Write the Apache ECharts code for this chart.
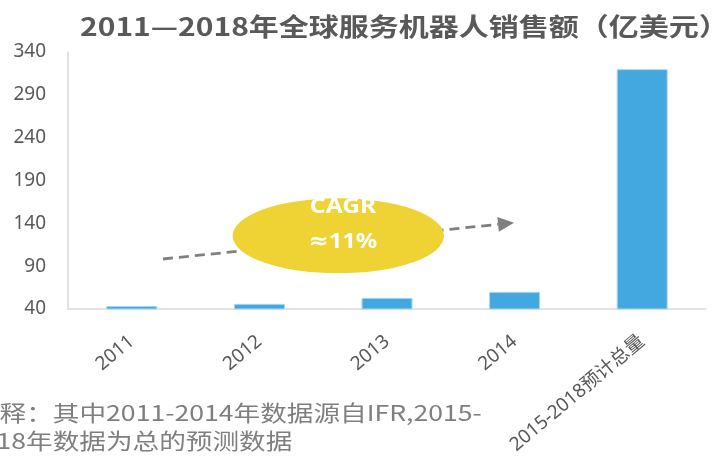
<!DOCTYPE html>
<html>
<head>
<meta charset="utf-8">
<script src="https://cdn.jsdelivr.net/npm/echarts@6/dist/echarts.min.js"></script>
<style>
  html, body { margin: 0; padding: 0; background: #ffffff; }
  #chart { width: 717px; height: 457px; }
</style>
</head>
<body>
<div id="chart"></div>
<script>
// Global service-robot sales, 100M USD
const categories = ['2011', '2012', '2013', '2014', '2015-2018预计总量'];
const sales = [43.5, 46, 53, 60, 320];
const yMin = 40;
const yMax = 340;
const yStep = 50;

const titleText = '2011—2018年全球服务机器人销售额（亿美元）';
const cagrLines = ['CAGR', '≈11%'];
const noteLines = ['注释：其中2011-2014年数据源自IFR,2015-', '2018年数据为总的预测数据'];

const FONT = "'Noto Sans', 'Noto Sans CJK SC', sans-serif";
const WIDE = 1.21; // horizontal stretch used by the text blocks

const chart = echarts.init(document.getElementById('chart'), null, { renderer: 'canvas' });

// trend arrow geometry (pixels)
const arrowStart = [163, 259];
const arrowTip = [514, 222.7];
const ang = Math.atan2(arrowTip[1] - arrowStart[1], arrowTip[0] - arrowStart[0]);
const headLen = 16, headHalf = 7.5;
const base = [arrowTip[0] - headLen * Math.cos(ang), arrowTip[1] - headLen * Math.sin(ang)];
const head = [
  arrowTip,
  [base[0] + headHalf * Math.sin(ang), base[1] - headHalf * Math.cos(ang)],
  [base[0] - headHalf * Math.sin(ang), base[1] + headHalf * Math.cos(ang)]
];

chart.setOption({
  backgroundColor: '#ffffff',
  animation: false,
  grid: { left: 68, right: 11, top: 52, bottom: 148, containLabel: false },
  xAxis: {
    type: 'category',
    data: categories,
    axisLine: { lineStyle: { color: '#d9d9d9', width: 1.5 } },
    axisTick: { show: false },
    axisLabel: { rotate: 40, margin: 30, fontSize: 19, color: '#595959', fontFamily: FONT, interval: 0 }
  },
  yAxis: {
    type: 'value',
    min: yMin,
    max: yMax,
    interval: yStep,
    axisLine: { show: true, lineStyle: { color: '#d9d9d9', width: 1.5 } },
    axisTick: { show: false },
    splitLine: { show: false },
    axisLabel: { fontSize: 19, color: '#595959', fontFamily: FONT, margin: 22 }
  },
  series: [{
    type: 'bar',
    data: sales,
    barWidth: 51,
    itemStyle: { color: '#43a8e0', borderColor: '#a9d7f2', borderWidth: 1 }
  }],
  graphic: [
    {
      type: 'text',
      x: 80, y: 26,
      scaleX: 1.2,
      style: { text: titleText, fill: '#595959', font: "bold 25px 'Noto Sans CJK SC', sans-serif", align: 'left', verticalAlign: 'middle' },
      z: 12
    },
    {
      type: 'line',
      shape: { x1: arrowStart[0], y1: arrowStart[1], x2: base[0], y2: base[1] },
      style: { stroke: '#7f7f7f', lineWidth: 2.8, lineDash: [10, 6] },
      z: 10
    },
    {
      type: 'polygon',
      shape: { points: head },
      style: { fill: '#7f7f7f' },
      z: 10
    },
    {
      type: 'circle',
      x: 338.3, y: 235.8,
      scaleX: 105.7 / 37.5,
      shape: { cx: 0, cy: 0, r: 37.5 },
      style: { fill: '#efd334' },
      z: 11
    },
    {
      type: 'text',
      x: 343, y: 207,
      scaleX: 1.12,
      style: { text: cagrLines[0], fill: '#ffffff', font: "bold 22px 'Noto Sans', sans-serif", align: 'center', verticalAlign: 'middle' },
      z: 12
    },
    {
      type: 'text',
      x: 343, y: 242,
      scaleX: 1.08,
      style: { text: cagrLines[1], fill: '#ffffff', font: "bold 22px 'Noto Sans', 'DejaVu Sans', sans-serif", align: 'center', verticalAlign: 'middle' },
      z: 12
    },
    {
      type: 'text',
      x: -27, y: 413,
      scaleX: WIDE,
      style: { text: noteLines[0], fill: '#7f7f7f', font: "22px 'Noto Sans CJK SC', sans-serif", align: 'left', verticalAlign: 'middle' },
      z: 12
    },
    {
      type: 'text',
      x: -33, y: 441,
      scaleX: WIDE,
      style: { text: noteLines[1], fill: '#7f7f7f', font: "22px 'Noto Sans CJK SC', sans-serif", align: 'left', verticalAlign: 'middle' },
      z: 12
    }
  ]
});
</script>
</body>
</html>
